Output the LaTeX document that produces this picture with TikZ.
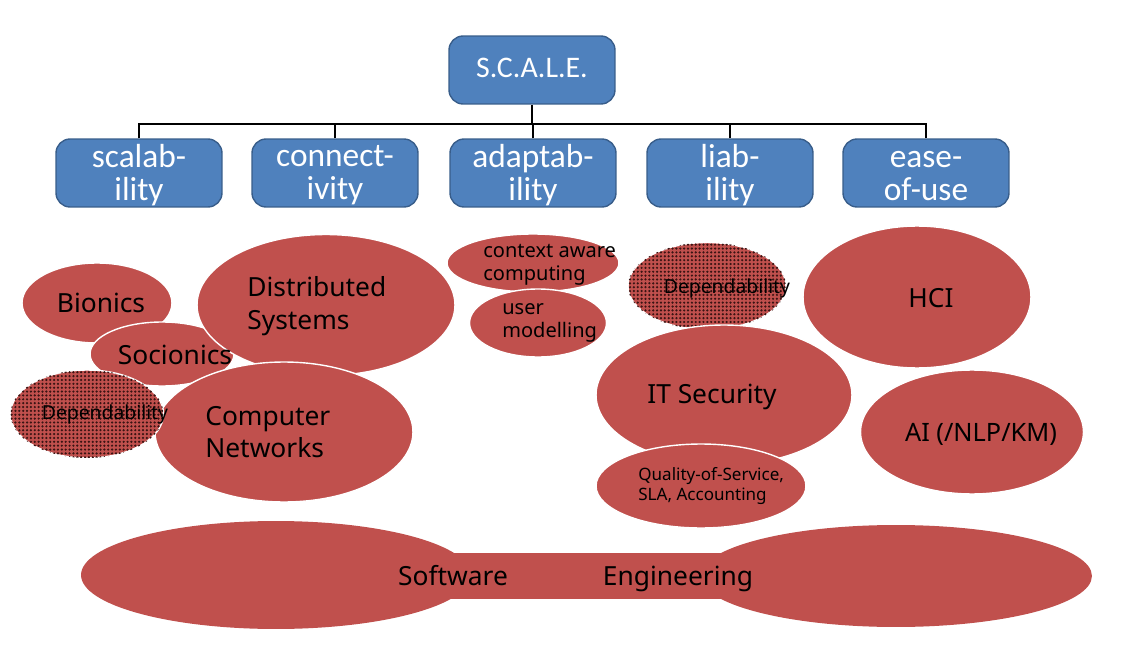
\documentclass[tikz,border=0pt]{standalone}
\usepackage{fontspec}
\setmainfont{Noto Sans}
\newfontfamily\boxfont{Carlito}
\usetikzlibrary{shapes.geometric,patterns.meta,positioning}

\definecolor{boxblue}{HTML}{4F81BD}
\definecolor{boxline}{HTML}{385D8A}
\definecolor{topicred}{HTML}{C0504D}
\definecolor{dotdark}{HTML}{3A1413}

\tikzset{
  goalbox/.style={draw=boxline, line width=0.8pt, fill=boxblue, rounded corners=8pt,
    minimum width=3.32cm, minimum height=1.36cm, inner sep=0pt, text=white, align=center,
    text depth=0.4pt, font=\boxfont\fontsize{19}{18.5}\selectfont},
  busline/.style={line width=1.6pt, black},
  topic/.style={ellipse, draw=white, line width=0.8pt, fill=topicred, inner sep=0pt},
  dottopic/.style={topic, postaction={pattern={Dots[distance=2.2pt, radius=0.7pt]}, pattern color=dotdark}},
  setopic/.style={ellipse, fill=topicred, inner sep=0pt},
  bigtxt/.style={font=\fontsize{15}{18.5}\selectfont, align=left, inner sep=0pt},
  midtxt/.style={font=\fontsize{15}{17}\selectfont, inner sep=0pt},
  smalltxt/.style={font=\fontsize{11.4}{13}\selectfont, align=left, inner sep=0pt},
  deptxt/.style={font=\fontsize{11}{12}\selectfont, inner sep=0pt},
  tinytxt/.style={font=\fontsize{9.7}{11.4}\selectfont, align=left, inner sep=0pt}
}

\begin{document}
\begin{tikzpicture}[x=0.02cm, y=-0.02cm]
  \useasboundingbox (0,0) rectangle (1134,666);

  % goal tree
  \node[goalbox, font=\boxfont\fontsize{17}{18}\selectfont, text depth=3pt] (S) at (532,70) {S.C.A.L.E.};
  \node[goalbox] (Sc) at (139,173) {scalab-\\ility};
  \node[goalbox] (Co) at (335,173) {connect-\\ivity};
  \node[goalbox] (Ad) at (533,173) {adaptab-\\ility};
  \node[goalbox] (Li) at (730,173) {liab-\\ility};
  \node[goalbox] (Ea) at (926,173) {ease-\vphantom{l}\\of-use};
  \coordinate (bus) at (532,124);
  \draw[busline] (S.south) -- (bus);
  \foreach \b in {Sc,Co,Ad,Li,Ea}
    \draw[busline] (\b.north) |- (bus);

  % left cluster
  \node[topic, minimum width=3cm, minimum height=1.6cm] (Bi) at (97,303) {};
  \node[topic, minimum width=2.88cm, minimum height=1.28cm] (So) at (162,354) {};
  \node[topic, minimum width=5.16cm, minimum height=2.82cm] (DS) at (326,305) {};
  \node[topic, minimum width=5.16cm, minimum height=2.8cm] (CN) at (284,432) {};
  \node[dottopic, minimum width=3.06cm, minimum height=1.76cm] (DL) at (87,414) {};
  \node[midtxt] at (101,303) {Bionics};
  \node[midtxt] at (175,355) {Socionics};
  \node[bigtxt, anchor=west] at (247,306) {Distributed\\Systems};
  \node[bigtxt, anchor=west] at (205,432) {Computer\\Networks};
  \node[deptxt] at (105,414) {Dependability};

  % middle cluster
  \node[topic, minimum width=3.44cm, minimum height=1.16cm] (CA) at (533,263) {};
  \node[topic, minimum width=2.74cm, minimum height=1.36cm] (UM) at (538,323) {};
  \node[smalltxt, anchor=west] at (483,265) {context aware\\computing};
  \node[smalltxt, anchor=west] at (502,323) {user\\modelling};

  \node[dottopic, minimum width=3.16cm, minimum height=1.74cm] (DR) at (707,286) {};
  \node[topic, minimum width=5.12cm, minimum height=2.8cm] (IT) at (724,395) {};
  \node[topic, minimum width=4.2cm, minimum height=1.68cm] (QS) at (701,486) {};
  \node[deptxt] at (727,288) {Dependability};
  \node[bigtxt] at (712,397) {IT Security};
  \node[tinytxt, anchor=west] at (638,486) {Quality-of-Service,\\SLA, Accounting};

  % right cluster
  \node[topic, minimum width=4.56cm, minimum height=2.84cm] (HC) at (917,297) {};
  \node[topic, minimum width=4.46cm, minimum height=2.48cm] (AI) at (972,432) {};
  \node[bigtxt] at (931,298) {HCI};
  \node[bigtxt, font=\fontsize{14.4}{18}\selectfont] at (981,434) {AI (/NLP/KM)};

  % software engineering
  \node[setopic, minimum width=7.8cm, minimum height=2.16cm] (SL) at (276,575) {};
  \node[setopic, minimum width=7.84cm, minimum height=2.04cm] (SR) at (896,576) {};
  \fill[topicred] (SL.center) ++(0,-22) rectangle ([yshift=-0.46cm]SR.center);
  \node[bigtxt, anchor=base] at (453,585) {Software};
  \node[bigtxt, anchor=base] at (678,585) {Engineering};
\end{tikzpicture}
\end{document}
